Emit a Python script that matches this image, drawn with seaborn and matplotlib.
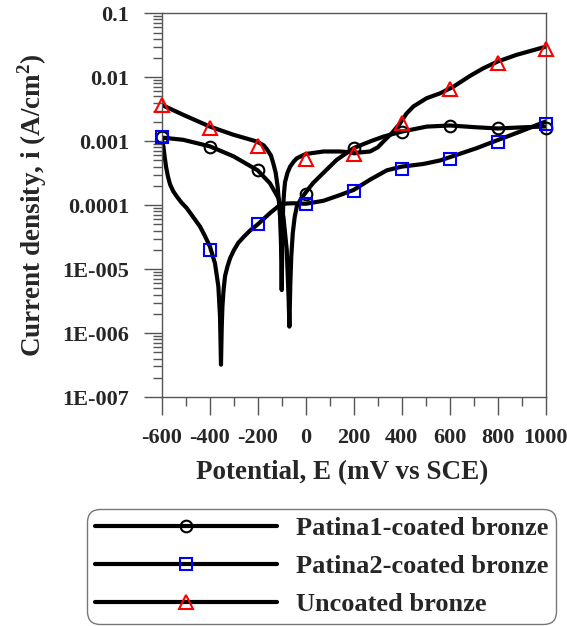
import numpy as np
import pandas as pd
import matplotlib
matplotlib.use("Agg")
import matplotlib.pyplot as plt
import matplotlib.ticker as mticker
from matplotlib.lines import Line2D
import seaborn as sns

# ---------------------------
# Data
# ---------------------------
# Uncoated bronze polarization curve
unc_E = [-600, -510, -399, -301, -204, -175, -162, -145, -135, -125, -117, -112,
         -107, -103, -101, -100, -99, -97, -94, -90, -86, -76, -65, -50, -37,
         0, 74, 143, 213, 268, 300, 324, 360, 393, 420, 449, 504, 560, 615,
         685, 740, 800, 879, 1000]
unc_i = [3.7e-3, 2.58e-3, 1.69e-3, 1.26e-3, 9.9e-4, 8.6e-4, 7.5e-4, 6.0e-4, 4.5e-4,
         3.2e-4, 1.96e-4, 1.2e-4, 6.6e-5, 2.5e-5, 9e-6, 4.7e-6, 9e-6, 3e-5, 9.5e-5,
         1.6e-4, 2.3e-4, 3.2e-4, 4.0e-4, 4.8e-4, 5.4e-4, 6.3e-4, 6.9e-4, 6.9e-4,
         6.6e-4, 6.9e-4, 8.0e-4, 9.9e-4, 1.35e-3, 1.9e-3, 2.7e-3, 3.5e-3, 4.7e-3,
         5.6e-3, 7.1e-3, 1.05e-2, 1.38e-2, 1.76e-2, 2.24e-2, 3.0e-2]

# Patina1-coated bronze
p1_E = [-600, -510, -399, -301, -200, -149, -114, -93, -79, -71, -68,
        -64, -60, -54, -46, -37, -20, 0, 30, 74, 129, 200, 268, 324, 400,
        504, 601, 699, 800, 893, 1000]
p1_i = [1.14e-3, 1.05e-3, 8.3e-4, 5.8e-4, 3.5e-4, 2.2e-4, 1.29e-4, 6.6e-5, 2.0e-5,
        3.3e-6, 1.26e-6, 6e-6, 1.6e-5, 3.6e-5, 6.5e-5, 9.5e-5, 1.25e-4, 1.58e-4,
        2.2e-4, 3.2e-4, 5.1e-4, 7.8e-4, 9.9e-4, 1.18e-3, 1.41e-3, 1.69e-3,
        1.76e-3, 1.66e-3, 1.58e-3, 1.64e-3, 1.70e-3]

# Patina2-coated bronze
p2_E = [-600, -596, -593, -588, -582, -574, -565, -552, -538, -518, -496, -470,
        -440, -420, -399, -378, -364, -357, -353, -350, -347, -342, -336, -326,
        -315, -300, -281, -258, -232, -200, -149, -107, -80, -51, 0, 74, 143,
        200, 268, 338, 400, 490, 560, 629, 713, 800, 893, 1000]
p2_i = [1.14e-3, 9.5e-4, 8.3e-4, 5.8e-4, 4.0e-4, 2.8e-4, 2.1e-4, 1.65e-4, 1.38e-4,
        1.1e-4, 9.0e-5, 6.6e-5, 4.6e-5, 3.3e-5, 2.25e-5, 1.23e-5, 5.4e-6, 1.8e-6,
        3.2e-7, 1.2e-6, 2.6e-6, 4.8e-6, 7.8e-6, 1.1e-5, 1.48e-5, 1.95e-5, 2.57e-5,
        3.2e-5, 4.0e-5, 5.0e-5, 7.5e-5, 1.01e-4, 1.06e-4, 1.07e-4, 1.05e-4,
        1.17e-4, 1.44e-4, 1.73e-4, 2.5e-4, 3.5e-4, 4.0e-4, 4.4e-4, 5.0e-4,
        6.1e-4, 7.8e-4, 1.04e-3, 1.41e-3, 2.03e-3]

# Marker points every 200 mV
mark_E = [-600, -400, -200, 0, 200, 400, 600, 800, 1000]
p1_mark = [1.15e-3, 8.2e-4, 3.5e-4, 1.5e-4, 7.8e-4, 1.38e-3, 1.74e-3, 1.6e-3, 1.6e-3]
p2_mark = [1.15e-3, 2.0e-5, 5.0e-5, 1.03e-4, 1.65e-4, 3.66e-4, 5.2e-4, 9.8e-4, 1.87e-3]
unc_mark = [3.7e-3, 1.6e-3, 8.5e-4, 5.2e-4, 6.3e-4, 1.9e-3, 6.5e-3, 1.65e-2, 2.75e-2]

labels = ["Patina1-coated bronze", "Patina2-coated bronze", "Uncoated bronze"]

x_ticks = [-600, -400, -200, 0, 200, 400, 600, 800, 1000]
y_ticks = [1e-7, 1e-6, 1e-5, 1e-4, 1e-3, 1e-2, 1e-1]
y_ticklabels = ["1E-007", "1E-006", "1E-005", "0.0001", "0.001", "0.01", "0.1"]

# ---------------------------
# Style
# ---------------------------
sns.set_style("ticks")
plt.rcParams["font.family"] = ["Liberation Serif", "DejaVu Serif"]
plt.rcParams["font.weight"] = "bold"
plt.rcParams["axes.labelweight"] = "bold"
plt.rcParams["mathtext.fontset"] = "custom"
plt.rcParams["mathtext.rm"] = "Liberation Serif:bold"
plt.rcParams["mathtext.bf"] = "Liberation Serif:bold"

fig = plt.figure(figsize=(5.67, 6.26), dpi=100)
ax = fig.add_axes([0.2852, 0.3658, 0.6772, 0.6130])

curves = [
    (p1_E, p1_i, p1_mark, "o", "black"),
    (p2_E, p2_i, p2_mark, "s", "blue"),
    (unc_E, unc_i, unc_mark, "^", "red"),
]
msize = {"o": 8.4, "s": 9.0, "^": 10.5}

for E, i, m, mk, col in curves:
    df = pd.DataFrame({"E": E, "i": i})
    sns.lineplot(data=df, x="E", y="i", ax=ax, color="black", lw=3,
                 sort=False, estimator=None)

for E, i, m, mk, col in curves:
    ax.plot(mark_E, m, ls="none", marker=mk, ms=msize[mk], mfc="none",
            mec=col, mew=1.5, zorder=5, clip_on=False)

ax.set_yscale("log")
ax.set_xlim(-600, 1000)
ax.set_ylim(1e-7, 0.1)

ax.set_xticks(x_ticks)
ax.set_xticklabels([str(v) for v in x_ticks])
ax.xaxis.set_minor_locator(mticker.MultipleLocator(100))
ax.yaxis.set_major_locator(mticker.FixedLocator(y_ticks))
ax.yaxis.set_major_formatter(mticker.FixedFormatter(y_ticklabels))
ax.yaxis.set_minor_locator(mticker.LogLocator(base=10, subs=np.arange(2, 10), numticks=20))
ax.yaxis.set_minor_formatter(mticker.NullFormatter())

ax.tick_params(which="major", direction="out", length=13.3, width=1,
               color="#555555", labelsize=16)
ax.tick_params(axis="x", which="major", pad=9)
ax.tick_params(axis="y", which="major", pad=10)
ax.tick_params(which="minor", direction="out", length=6.7, width=1,
               color="#555555")
ax.tick_params(top=False, right=False, which="both")
for t in ax.get_xticklabels() + ax.get_yticklabels():
    t.set_fontweight("bold")

for s in ax.spines.values():
    s.set_color("#555555")
    s.set_linewidth(1)

ax.set_xlabel("Potential, E (mV vs SCE)", fontsize=19.5, fontweight="bold")
ax.set_ylabel(r"Current density, i (A/cm$^{2}$)", fontsize=19.5, fontweight="bold")
ax.xaxis.set_label_coords(0.47, -0.165)
ax.yaxis.set_label_coords(-0.293, 0.5)

handles = [Line2D([], [], color="black", lw=3, marker=mk, ms=msize[mk], mfc="none",
                  mec=col, mew=1.5) for E, i, m, mk, col in curves]
leg = fig.legend(handles, labels, loc="upper left", bbox_to_anchor=(0.153, 0.187),
                 bbox_transform=fig.transFigure, borderaxespad=0, borderpad=0.3,
                 handlelength=6.9, handletextpad=0.72, labelspacing=0.55,
                 numpoints=1, fancybox=True, frameon=True,
                 prop={"family": "Liberation Serif", "weight": "bold", "size": 19})
frame = leg.get_frame()
frame.set_boxstyle("round", pad=0, rounding_size=0.5)
frame.set_edgecolor("#555555")
frame.set_linewidth(1)

fig.savefig("out.png", dpi=100)
